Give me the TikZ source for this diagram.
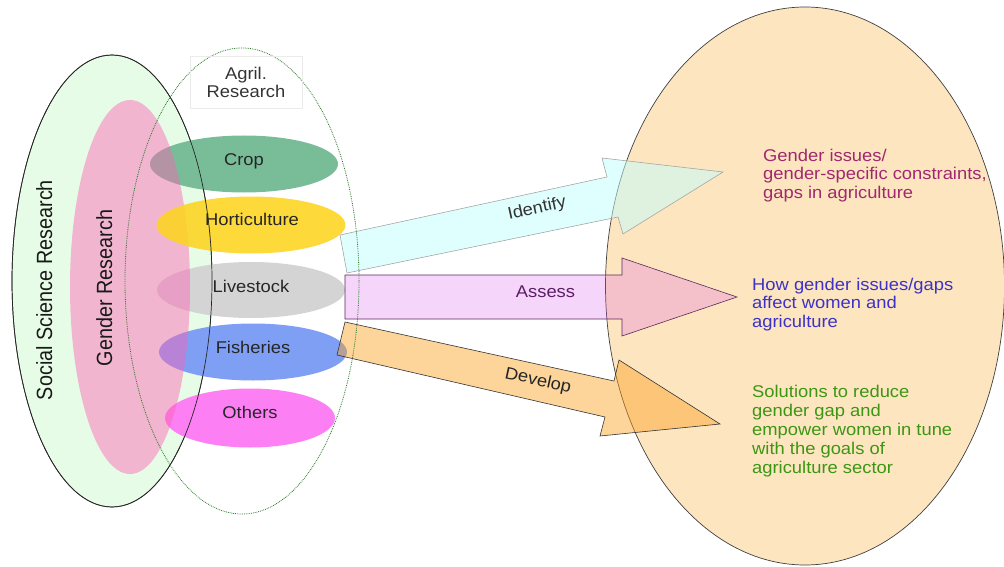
\documentclass[tikz,border=0pt]{standalone}
\usepackage{fontspec}
\setmainfont{Liberation Sans}
\newfontfamily\hfont{Liberation Sans}[FakeStretch=1.08]
\newfontfamily\vfont{Liberation Sans}[FakeStretch=0.9]
\usetikzlibrary{shapes.geometric}
\definecolor{socfill}{RGB}{230,252,230}
\definecolor{gendfill}{RGB}{255,96,179}
\definecolor{cropc}{RGB}{120,189,152}
\definecolor{hortc}{RGB}{253,212,31}
\definecolor{livec}{RGB}{212,212,212}
\definecolor{fishc}{RGB}{127,159,245}
\definecolor{othc}{RGB}{252,128,244}
\definecolor{outc}{RGB}{253,229,192}
\definecolor{idc}{RGB}{192,255,255}
\definecolor{asc}{RGB}{220,88,236}
\definecolor{dvc}{RGB}{251,160,31}
\definecolor{asdraw}{RGB}{90,40,90}
\definecolor{t1}{RGB}{160,40,110}
\definecolor{t2}{RGB}{60,50,200}
\definecolor{t3}{RGB}{60,150,20}
\definecolor{agrc}{RGB}{40,120,40}
\definecolor{asstxt}{RGB}{90,30,100}
\begin{document}
\begin{tikzpicture}[x=1pt,y=-1pt,
  oval/.style={ellipse, inner sep=0pt, outer sep=0pt},
  lbl/.style={font=\hfont\fontsize{17}{18.5}\selectfont, text=black!85, inner sep=0pt, anchor=base},
  vlbl/.style={font=\vfont\fontsize{22}{24}\selectfont, text=black!90, inner sep=0pt, anchor=base, rotate=90},
  outtxt/.style={font=\hfont\fontsize{17}{18.5}\selectfont, inner sep=0pt, anchor=north west, align=left},
  blockarrow/.style={line join=miter, line width=0.6pt}
]
\useasboundingbox (0,0) rectangle (1004,567);
% social science
\node[oval, fill=socfill, draw=black!85, line width=0.7pt, minimum width=200, minimum height=452] (social) at (112,281) {};
% colored ellipses under the pink
\node[oval, fill=cropc, minimum width=188, minimum height=57] (crop) at (244,164) {};
\node[oval, fill=livec, minimum width=188, minimum height=56] (live) at (251,290) {};
\node[oval, fill=fishc, minimum width=188, minimum height=57] (fish) at (253,352) {};
\node[oval, fill=othc, minimum width=170, minimum height=59] (others) at (250,418) {};
% gender research
\node[oval, fill=gendfill, fill opacity=0.45, minimum width=120, minimum height=374] (gender) at (130,287) {};
% horticulture on top
\node[oval, fill=hortc, fill opacity=0.88, minimum width=189, minimum height=57] (hort) at (251,225) {};
% social border again
\draw[black!85, line width=0.7pt] (social.center) ellipse [x radius=100, y radius=226];
% outcome ellipse
\node[oval, fill=outc, draw=black!75, line width=0.7pt, minimum width=399, minimum height=558] (outcome) at (805,286) {};
% arrows
\filldraw[blockarrow, fill=idc, fill opacity=0.5, draw=black!35]
  (340,235) -- (607,177) -- (602,158) -- (723,172) -- (623,234) -- (618,217) -- (347,273) -- cycle;
\filldraw[blockarrow, fill=asc, fill opacity=0.25, draw=asdraw]
  (345,275) -- (622,275) -- (622,258) -- (737,297) -- (622,336) -- (622,319) -- (345,319) -- cycle;
\filldraw[blockarrow, fill=dvc, fill opacity=0.45, draw=black!80]
  (345,322) -- (614,381) -- (619,360) -- (720,424) -- (600,436) -- (605,417) -- (337,355) -- cycle;
% agril ring
\node[oval, draw=agrc, densely dotted, line width=0.8pt, minimum width=234, minimum height=466] (agril) at (242,281) {};
\node[draw=black!8, minimum width=112, minimum height=52, align=center, inner sep=0pt,
  font=\hfont\fontsize{17}{18}\selectfont, text=black!80] (agriltxt) at (246,82) {Agril.\\Research};
% labels
\node[vlbl] (soctxt) at (52,290) {Social Science Research};
\node[vlbl] (gentxt) at (112,288) {Gender Research};
\node[lbl] (croptxt) at (244,165) {Crop};
\node[lbl] (horttxt) at (252,225) {Horticulture};
\node[lbl] (livetxt) at (251,292) {Livestock};
\node[lbl] (fishtxt) at (253,353) {Fisheries};
\node[lbl] (othtxt) at (250,418) {Others};
\node[lbl, anchor=center, rotate=12.3, text=black!80] (idtxt) at (537,209) {Identify};
\node[lbl, text=asstxt] (astxt) at (545.5,297) {Assess};
\node[lbl, anchor=center, rotate=-12.4, text=black!85] (dvtxt) at (538,381) {Develop};
\node[outtxt, text=t1] (out1) at (763,148.6) {Gender issues/\\gender-specific constraints,\\gaps in agriculture};
\node[outtxt, text=t2] (out2) at (752,277.6) {How gender issues/gaps\\affect women and\\agriculture};
\node[outtxt, text=t3, font=\hfont\fontsize{17}{19}\selectfont] (out3) at (752,384.6) {Solutions to reduce\\gender gap and\\empower women in tune\\with the goals of\\agriculture sector};
\end{tikzpicture}
\end{document}
